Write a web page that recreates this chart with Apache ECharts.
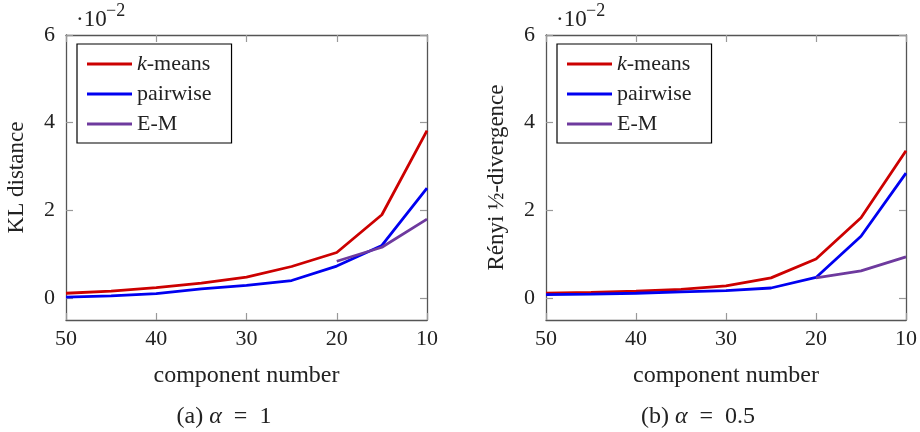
<!DOCTYPE html>
<html>
<head>
<meta charset="utf-8">
<script src="https://cdn.jsdelivr.net/npm/echarts@6/dist/echarts.min.js"></script>
<style>
  html, body { margin: 0; padding: 0; background: #fff; }
  #chart { width: 920px; height: 432px; }
</style>
</head>
<body>
<div id="chart"></div>
<script>
// component numbers (x axis, shown right-to-left)
const components = [50, 45, 40, 35, 30, 25, 20, 15, 10];
const emComponents = [20, 15, 10];
const xTicks = [50, 40, 30, 20, 10];
const yTicks = [0, 2, 4, 6];

// (a) alpha = 1, KL distance, in units of 1e-2
const klKmeans = [0.11, 0.16, 0.24, 0.34, 0.48, 0.72, 1.04, 1.90, 3.82];
const klPairwise = [0.02, 0.05, 0.10, 0.21, 0.29, 0.40, 0.73, 1.20, 2.51];
const klEM = [0.84, 1.16, 1.80];

// (b) alpha = 0.5, Renyi 1/2-divergence, in units of 1e-2
const reKmeans = [0.11, 0.13, 0.16, 0.20, 0.28, 0.46, 0.89, 1.83, 3.36];
const rePairwise = [0.08, 0.09, 0.11, 0.14, 0.17, 0.23, 0.47, 1.41, 2.85];
const reEM = [0.46, 0.62, 0.94];

const FONT = '"Liberation Serif", "DejaVu Serif", serif';
const RED = '#cc0000', BLUE = '#0000f0', PURPLE = '#6e3a9e';

const pairs = (xs, ys) => xs.map((x, i) => [x, ys[i]]);

const chart = echarts.init(document.getElementById('chart'));

const grids = [
  { left: 66, top: 35, width: 361, height: 285 },
  { left: 546, top: 35, width: 361, height: 285 }
];

function xAxes(g, name) {
  const base = {
    type: 'value', gridIndex: g, min: 10, max: 50, interval: 10, inverse: true,
    axisLine: { show: true, onZero: false, lineStyle: { color: '#555', width: 1.3 } },
    axisTick: { show: true, inside: true, length: 7, lineStyle: { color: '#999', width: 1.2 } },
    splitLine: { show: false }
  };
  return [
    Object.assign({}, base, {
      position: 'bottom',
      axisLabel: { color: '#222', fontFamily: FONT, fontSize: 22, margin: 8,
                   customValues: xTicks },
      name: name, nameLocation: 'middle', nameGap: 44,
      nameTextStyle: { color: '#222', fontFamily: FONT, fontSize: 24 }
    }),
    Object.assign({}, base, { position: 'top', axisLabel: { show: false } })
  ];
}

function yAxes(g, name) {
  const base = {
    type: 'value', gridIndex: g, min: -0.5, max: 6,
    axisLine: { show: true, onZero: false, lineStyle: { color: '#555', width: 1.3 } },
    axisTick: { show: true, inside: true, length: 7, customValues: yTicks,
                lineStyle: { color: '#999', width: 1.2 } },
    splitLine: { show: false }
  };
  return [
    Object.assign({}, base, {
      position: 'left',
      axisLabel: { color: '#222', fontFamily: FONT, fontSize: 22, margin: 11,
                   customValues: yTicks },
      name: name, nameLocation: 'middle', nameGap: 38,
      nameTextStyle: { color: '#222', fontFamily: FONT, fontSize: 23 }
    }),
    Object.assign({}, base, { position: 'right', axisLabel: { show: false } })
  ];
}

function line(name, data, color, xi, yi) {
  return {
    name: name, type: 'line', data: data, xAxisIndex: xi, yAxisIndex: yi,
    symbol: 'none', lineStyle: { color: color, width: 2.8 }, itemStyle: { color: color },
    animation: false
  };
}

function legend(left) {
  return {
    left: left, top: 44, orient: 'vertical',
    data: ['k-means', 'pairwise', 'E-M'],
    icon: 'rect',
    borderColor: '#000', borderWidth: 1.2, padding: [9, 20, 8, 10],
    itemWidth: 45, itemHeight: 3, itemGap: 8,
    selectedMode: false,
    formatter: n => n === 'k-means' ? '{i|k}-means' : n,
    textStyle: {
      color: '#222', fontFamily: FONT, fontSize: 22,
      rich: { i: { fontFamily: FONT, fontSize: 22, fontStyle: 'italic', color: '#222' } }
    }
  };
}

function exponent(left) {
  return [
    { type: 'text', left: left, top: 8,
      style: { text: '·10', font: '23px ' + FONT, fill: '#222' } },
    { type: 'text', left: left + 30, top: 2,
      style: { text: '−2', font: '18px ' + FONT, fill: '#222' } }
  ];
}

function caption(cx, label, value) {
  return {
    type: 'text', x: cx, y: 417,
    style: { text: label + ' {i|α}  =  ' + value, font: '24px ' + FONT, fill: '#222',
             align: 'center', verticalAlign: 'middle',
             rich: { i: { font: 'italic 24px ' + FONT, fill: '#222' } } }
  };
}

chart.setOption({
  backgroundColor: '#fff',
  animation: false,
  grid: grids,
  xAxis: xAxes(0, 'component number').concat(xAxes(1, 'component number')),
  yAxis: yAxes(0, 'KL distance').concat(yAxes(1, 'Rényi ½-divergence')),
  legend: [legend(77), legend(557)],
  series: [
    line('k-means', pairs(components, klKmeans), RED, 0, 0),
    line('pairwise', pairs(components, klPairwise), BLUE, 0, 0),
    line('E-M', pairs(emComponents, klEM), PURPLE, 0, 0),
    line('k-means', pairs(components, reKmeans), RED, 2, 2),
    line('pairwise', pairs(components, rePairwise), BLUE, 2, 2),
    line('E-M', pairs(emComponents, reEM), PURPLE, 2, 2)
  ],
  graphic: exponent(76).concat(exponent(556)).concat([
    caption(224, '(a)', '1'),
    caption(698, '(b)', '0.5')
  ])
});
</script>
</body>
</html>
